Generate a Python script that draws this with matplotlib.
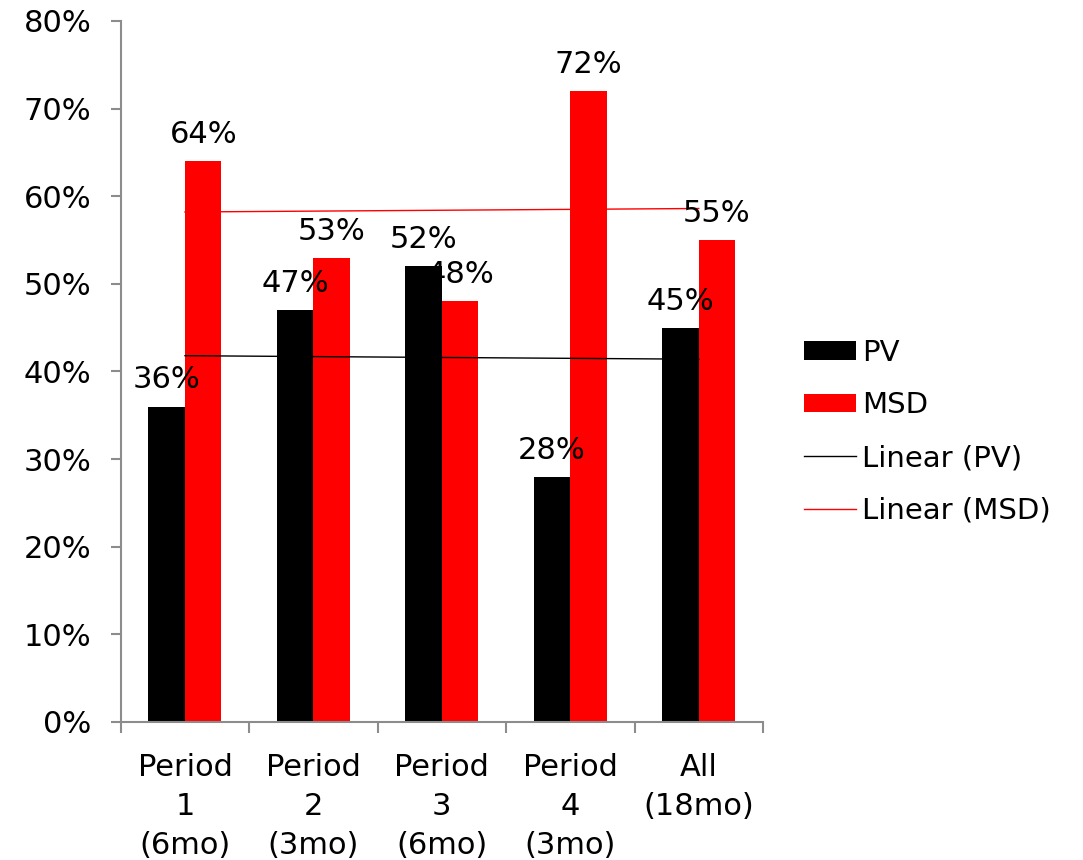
import numpy as np
import matplotlib
matplotlib.use("Agg")
import matplotlib.pyplot as plt
from matplotlib.ticker import FuncFormatter

# data
categories = ["Period\n1\n(6mo)", "Period\n2\n(3mo)", "Period\n3\n(6mo)", "Period\n4\n(3mo)", "All\n(18mo)"]
pv = [36, 47, 52, 28, 45]
msd = [64, 53, 48, 72, 55]

plt.rcParams['font.family'] = ['DejaVu Sans']
gray = '#8c8c8c'
fs = 22

fig = plt.figure(figsize=(10.83, 8.6), dpi=100)
ax = fig.add_axes([0.1115, 0.1605, 0.593, 0.8151])

x = np.arange(len(categories))
w = 0.284

b1 = ax.bar(x - w / 2, pv, w, color='black', label='PV')
b2 = ax.bar(x + w / 2, msd, w, color='#ff0000', label='MSD')

# linear trend lines, like Excel's
p_pv = np.polyfit(x, pv, 1)
p_msd = np.polyfit(x, msd, 1)
l1, = ax.plot(x, np.polyval(p_pv, x), color='black', lw=1.0, label='Linear (PV)')
l2, = ax.plot(x, np.polyval(p_msd, x), color='#ff0000', lw=1.0, label='Linear (MSD)')

for bars, vals in [(b1, pv), (b2, msd)]:
    for b, v in zip(bars, vals):
        ax.annotate(f"{v}%", (b.get_x() + b.get_width() / 2, v),
                    xytext=(0, 13), textcoords='offset points',
                    ha='center', va='baseline', fontsize=fs)

ax.set_xlim(-0.5, len(categories) - 0.5)
ax.set_ylim(0, 80)
ax.set_yticks(range(0, 81, 10))
ax.yaxis.set_major_formatter(FuncFormatter(lambda v, p: f"{int(v)}%"))

ax.set_xticks(x)
ax.set_xticklabels(categories)
for t in ax.get_xticklabels():
    t.set_linespacing(1.45)
ax.set_xticks(np.arange(-0.5, len(categories)), minor=True)
ax.tick_params(axis='x', which='major', length=0, pad=22, labelsize=fs)
ax.tick_params(axis='x', which='minor', length=8, width=1.5, color=gray)
ax.tick_params(axis='y', length=7, width=1.5, color=gray, pad=14, labelsize=fs)

for s in ['top', 'right']:
    ax.spines[s].set_visible(False)
for s in ['left', 'bottom']:
    ax.spines[s].set_color(gray)
    ax.spines[s].set_linewidth(1.5)

ax.legend([b1, b2, l1, l2], ['PV', 'MSD', 'Linear (PV)', 'Linear (MSD)'],
          loc='center left', bbox_to_anchor=(1.023, 0.414), frameon=False,
          fontsize=21, handlelength=1.8, handletextpad=0.2, labelspacing=0.85,
          handleheight=0.6)

fig.savefig("out.png", dpi=100)
